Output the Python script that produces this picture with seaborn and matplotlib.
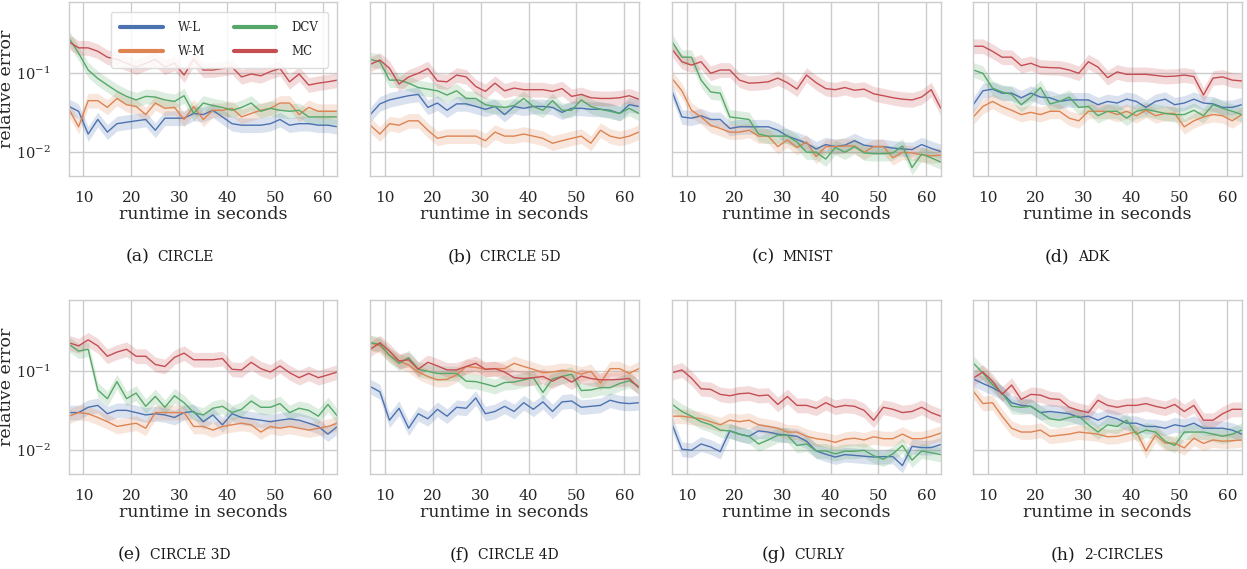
import matplotlib
matplotlib.use("Agg")
import matplotlib.pyplot as plt
from matplotlib.lines import Line2D
import numpy as np
import pandas as pd
import seaborn as sns

# Checkpoints (seconds) at which the estimators were evaluated
runtime = list(range(7, 64, 2))

methods = ["W-L", "W-M", "DCV", "MC"]
panel_tags = ["(a)", "(b)", "(c)", "(d)", "(e)", "(f)", "(g)", "(h)"]
panel_names = ["circle", "circle 5d", "mnist", "adk",
               "circle 3d", "circle 4d", "curly", "2-circles"]

# Relative error per method, one list per dataset
circle_wl = [0.038, 0.033, 0.017, 0.026, 0.018, 0.023, 0.024, 0.025, 0.026, 0.019, 0.027, 0.027, 0.027, 0.031, 0.030,
             0.034, 0.028, 0.023, 0.022, 0.022, 0.022, 0.023, 0.026, 0.022, 0.023, 0.023, 0.022, 0.022, 0.021]
circle_wm = [0.035, 0.021, 0.045, 0.045, 0.037, 0.048, 0.040, 0.038, 0.030, 0.042, 0.036, 0.037, 0.026, 0.038, 0.026,
             0.034, 0.034, 0.036, 0.028, 0.031, 0.034, 0.036, 0.042, 0.042, 0.030, 0.037, 0.033, 0.033, 0.033]
circle_dcv = [0.28, 0.18, 0.11, 0.086, 0.071, 0.059, 0.051, 0.046, 0.051, 0.050, 0.046, 0.044, 0.052, 0.031, 0.042,
              0.039, 0.037, 0.034, 0.037, 0.042, 0.033, 0.036, 0.034, 0.033, 0.034, 0.028, 0.028, 0.028, 0.028]
circle_mc = [0.25, 0.21, 0.21, 0.19, 0.16, 0.15, 0.134, 0.12, 0.134, 0.15, 0.12, 0.134, 0.095, 0.15, 0.11,
             0.11, 0.115, 0.12, 0.09, 0.098, 0.093, 0.105, 0.115, 0.078, 0.098, 0.071, 0.075, 0.078, 0.082]

circle5d_wl = [0.030, 0.041, 0.046, 0.049, 0.052, 0.054, 0.037, 0.042, 0.034, 0.041, 0.041, 0.038, 0.035, 0.038, 0.030,
               0.038, 0.036, 0.038, 0.038, 0.037, 0.032, 0.036, 0.036, 0.035, 0.035, 0.034, 0.031, 0.040, 0.038]
circle5d_wm = [0.022, 0.017, 0.023, 0.022, 0.025, 0.025, 0.019, 0.015, 0.016, 0.016, 0.016, 0.016, 0.014, 0.018, 0.016,
               0.016, 0.017, 0.016, 0.015, 0.013, 0.014, 0.015, 0.016, 0.013, 0.019, 0.016, 0.015, 0.016, 0.018]
circle5d_dcv = [0.15, 0.14, 0.082, 0.082, 0.075, 0.066, 0.063, 0.060, 0.053, 0.060, 0.048, 0.048, 0.040, 0.038, 0.037,
                0.039, 0.048, 0.038, 0.034, 0.045, 0.034, 0.034, 0.046, 0.038, 0.035, 0.033, 0.031, 0.036, 0.031]
circle5d_mc = [0.13, 0.147, 0.116, 0.073, 0.09, 0.10, 0.115, 0.08, 0.078, 0.095, 0.09, 0.068, 0.059, 0.075, 0.060,
               0.065, 0.062, 0.062, 0.062, 0.059, 0.064, 0.051, 0.054, 0.049, 0.048, 0.048, 0.049, 0.052, 0.047]

mnist_wl = [0.058, 0.028, 0.027, 0.029, 0.026, 0.026, 0.020, 0.021, 0.021, 0.021, 0.021, 0.019, 0.016, 0.0145, 0.013,
            0.011, 0.0125, 0.0118, 0.0123, 0.014, 0.0123, 0.0118, 0.0118, 0.0113, 0.011, 0.0108, 0.0125, 0.0112, 0.0102]
mnist_wm = [0.085, 0.06, 0.034, 0.028, 0.022, 0.020, 0.018, 0.018, 0.019, 0.016, 0.016, 0.0118, 0.0143, 0.0115, 0.0135,
            0.0088, 0.0118, 0.0118, 0.012, 0.012, 0.010, 0.0118, 0.0118, 0.0085, 0.010, 0.0098, 0.0093, 0.0090, 0.0092]
mnist_dcv = [0.25, 0.16, 0.16, 0.082, 0.058, 0.056, 0.028, 0.027, 0.026, 0.017, 0.016, 0.016, 0.016, 0.0135, 0.010,
             0.010, 0.0082, 0.0115, 0.010, 0.0118, 0.0098, 0.0096, 0.0096, 0.0098, 0.012, 0.0064, 0.0095, 0.0085, 0.0075]
mnist_mc = [0.20, 0.14, 0.127, 0.14, 0.10, 0.11, 0.11, 0.082, 0.075, 0.076, 0.078, 0.087, 0.076, 0.063, 0.095,
            0.076, 0.064, 0.062, 0.066, 0.061, 0.063, 0.055, 0.052, 0.049, 0.047, 0.046, 0.050, 0.062, 0.036]

adk_wl = [0.040, 0.060, 0.063, 0.056, 0.056, 0.049, 0.056, 0.050, 0.049, 0.044, 0.046, 0.046, 0.046, 0.040, 0.044,
          0.042, 0.047, 0.044, 0.037, 0.044, 0.047, 0.040, 0.042, 0.047, 0.042, 0.041, 0.037, 0.037, 0.040]
adk_wm = [0.028, 0.038, 0.044, 0.038, 0.034, 0.030, 0.032, 0.030, 0.033, 0.033, 0.027, 0.025, 0.033, 0.033, 0.033,
          0.030, 0.033, 0.029, 0.034, 0.029, 0.031, 0.031, 0.021, 0.025, 0.028, 0.030, 0.029, 0.025, 0.030]
adk_dcv = [0.11, 0.10, 0.065, 0.058, 0.054, 0.040, 0.050, 0.066, 0.041, 0.044, 0.050, 0.037, 0.038, 0.029, 0.033,
           0.033, 0.027, 0.033, 0.035, 0.033, 0.031, 0.030, 0.030, 0.034, 0.029, 0.040, 0.036, 0.033, 0.030]
adk_mc = [0.22, 0.22, 0.19, 0.16, 0.16, 0.125, 0.134, 0.12, 0.118, 0.117, 0.11, 0.10, 0.14, 0.12, 0.088,
          0.104, 0.097, 0.097, 0.097, 0.094, 0.091, 0.092, 0.095, 0.091, 0.053, 0.087, 0.090, 0.082, 0.080]

circle3d_wl = [0.030, 0.030, 0.035, 0.037, 0.029, 0.032, 0.032, 0.030, 0.028, 0.029, 0.028, 0.026, 0.030, 0.031, 0.023,
               0.028, 0.021, 0.029, 0.026, 0.025, 0.024, 0.023, 0.024, 0.025, 0.024, 0.022, 0.020, 0.016, 0.020]
circle3d_wm = [0.027, 0.030, 0.029, 0.026, 0.023, 0.020, 0.021, 0.022, 0.019, 0.030, 0.030, 0.030, 0.030, 0.020, 0.020,
               0.018, 0.020, 0.021, 0.022, 0.021, 0.017, 0.020, 0.019, 0.020, 0.019, 0.018, 0.019, 0.020, 0.022]
circle3d_dcv = [0.22, 0.18, 0.19, 0.058, 0.045, 0.074, 0.045, 0.053, 0.036, 0.048, 0.035, 0.049, 0.040, 0.030, 0.028,
                0.034, 0.036, 0.030, 0.033, 0.042, 0.035, 0.035, 0.039, 0.030, 0.034, 0.032, 0.027, 0.038, 0.027]
circle3d_mc = [0.23, 0.21, 0.25, 0.21, 0.155, 0.175, 0.19, 0.155, 0.155, 0.122, 0.115, 0.15, 0.17, 0.14, 0.14,
               0.14, 0.145, 0.106, 0.104, 0.13, 0.108, 0.098, 0.117, 0.096, 0.083, 0.094, 0.083, 0.090, 0.098]

circle4d_wl = [0.064, 0.055, 0.024, 0.034, 0.019, 0.029, 0.025, 0.033, 0.027, 0.035, 0.034, 0.046, 0.029, 0.031, 0.036,
               0.031, 0.040, 0.033, 0.041, 0.031, 0.041, 0.042, 0.035, 0.036, 0.037, 0.043, 0.040, 0.039, 0.040]
circle4d_wm = [0.23, 0.21, 0.16, 0.135, 0.12, 0.098, 0.086, 0.078, 0.079, 0.09, 0.115, 0.112, 0.106, 0.108, 0.108,
               0.126, 0.115, 0.106, 0.096, 0.098, 0.103, 0.10, 0.092, 0.10, 0.071, 0.108, 0.108, 0.094, 0.108]
circle4d_dcv = [0.23, 0.22, 0.16, 0.126, 0.149, 0.106, 0.10, 0.094, 0.094, 0.094, 0.075, 0.074, 0.069, 0.064, 0.072,
                0.073, 0.078, 0.083, 0.054, 0.080, 0.086, 0.092, 0.057, 0.058, 0.062, 0.062, 0.070, 0.076, 0.064]
circle4d_mc = [0.19, 0.23, 0.18, 0.135, 0.14, 0.106, 0.13, 0.117, 0.104, 0.104, 0.115, 0.126, 0.106, 0.108, 0.098,
               0.083, 0.081, 0.083, 0.086, 0.075, 0.086, 0.073, 0.087, 0.081, 0.078, 0.078, 0.079, 0.081, 0.062]

curly_wl = [0.021, 0.0103, 0.010, 0.012, 0.011, 0.0096, 0.0176, 0.016, 0.015, 0.0176, 0.017, 0.016, 0.0155, 0.015, 0.013,
            0.0098, 0.0089, 0.0082, 0.0088, 0.0086, 0.0084, 0.0082, 0.0083, 0.0083, 0.0064, 0.0112, 0.0108, 0.0108, 0.0118]
curly_wm = [0.027, 0.027, 0.026, 0.025, 0.023, 0.021, 0.024, 0.023, 0.024, 0.021, 0.020, 0.019, 0.017, 0.017, 0.015,
            0.014, 0.0135, 0.0126, 0.0138, 0.0142, 0.0135, 0.0148, 0.014, 0.014, 0.016, 0.014, 0.014, 0.015, 0.0165]
curly_dcv = [0.038, 0.031, 0.027, 0.023, 0.021, 0.018, 0.0175, 0.016, 0.015, 0.012, 0.0135, 0.0155, 0.0155, 0.0115, 0.012,
             0.0098, 0.0098, 0.009, 0.0097, 0.0097, 0.010, 0.0085, 0.0077, 0.0090, 0.0115, 0.0075, 0.0098, 0.0093, 0.0088]
curly_mc = [0.096, 0.104, 0.082, 0.060, 0.059, 0.051, 0.049, 0.052, 0.053, 0.049, 0.050, 0.038, 0.048, 0.037, 0.037,
            0.034, 0.040, 0.035, 0.037, 0.036, 0.032, 0.024, 0.035, 0.033, 0.030, 0.031, 0.035, 0.030, 0.027]

circles2_wl = [0.080, 0.070, 0.062, 0.053, 0.040, 0.037, 0.036, 0.030, 0.031, 0.030, 0.029, 0.026, 0.027, 0.024, 0.027,
               0.025, 0.022, 0.022, 0.020, 0.020, 0.019, 0.021, 0.020, 0.022, 0.019, 0.019, 0.019, 0.018, 0.016]
circles2_wm = [0.056, 0.039, 0.040, 0.027, 0.019, 0.017, 0.017, 0.018, 0.015, 0.0155, 0.016, 0.017, 0.0165, 0.016, 0.0148,
               0.015, 0.016, 0.0172, 0.0098, 0.0155, 0.0123, 0.0123, 0.0107, 0.0142, 0.0122, 0.0135, 0.013, 0.0132, 0.0135]
circles2_dcv = [0.127, 0.095, 0.068, 0.053, 0.036, 0.035, 0.036, 0.030, 0.025, 0.024, 0.026, 0.027, 0.021, 0.017, 0.021,
                0.020, 0.024, 0.016, 0.018, 0.017, 0.013, 0.0115, 0.017, 0.017, 0.017, 0.016, 0.015, 0.016, 0.018]
circles2_mc = [0.082, 0.098, 0.075, 0.051, 0.067, 0.044, 0.051, 0.050, 0.045, 0.044, 0.035, 0.032, 0.030, 0.043, 0.037,
               0.035, 0.037, 0.037, 0.039, 0.036, 0.034, 0.038, 0.031, 0.037, 0.024, 0.024, 0.029, 0.033, 0.033]

panels = [
    [circle_wl, circle_wm, circle_dcv, circle_mc],
    [circle5d_wl, circle5d_wm, circle5d_dcv, circle5d_mc],
    [mnist_wl, mnist_wm, mnist_dcv, mnist_mc],
    [adk_wl, adk_wm, adk_dcv, adk_mc],
    [circle3d_wl, circle3d_wm, circle3d_dcv, circle3d_mc],
    [circle4d_wl, circle4d_wm, circle4d_dcv, circle4d_mc],
    [curly_wl, curly_wm, curly_dcv, curly_mc],
    [circles2_wl, circles2_wm, circles2_dcv, circles2_mc],
]

# Multiplicative half-width of the confidence band around each curve
band_factor = 1.24

sns.set_theme(style="whitegrid", palette="deep")
plt.rcParams["font.family"] = ["DejaVu Serif"]
plt.rcParams["mathtext.fontset"] = "dejavuserif"

colors = dict(zip(methods, sns.color_palette("deep", 4)))

W, H = 1247, 569
fig = plt.figure(figsize=(W / 100, H / 100), dpi=100)

col_left = [69, 370.3, 672.3, 973.3]
ax_w = 268.5
row_top = [2, 300]
ax_h = 174.0
caption_cx = [[170, 504, 792, 1077], [174, 504, 803, 1107]]
caption_base = [261, 559]

axes = []
for k, series in enumerate(panels):
    r, c = divmod(k, 4)
    left = col_left[c] / W
    bottom = 1 - (row_top[r] + ax_h) / H
    ax = fig.add_axes([left, bottom, ax_w / W, ax_h / H])
    axes.append(ax)

    df = pd.DataFrame({
        "runtime": runtime * len(methods),
        "error": np.concatenate(series),
        "method": np.repeat(methods, len(runtime)),
    })
    sns.lineplot(data=df, x="runtime", y="error", hue="method",
                 hue_order=methods, palette=colors, linewidth=1.0,
                 legend=False, ax=ax)
    for m, vals in zip(methods, series):
        v = np.asarray(vals)
        ax.fill_between(runtime, v / band_factor, v * band_factor,
                        color=colors[m], alpha=0.2, linewidth=0)

    ax.set_yscale("log")
    ax.set_ylim(0.005, 0.8)
    ax.set_xlim(7, 63)
    ax.set_xticks([10, 20, 30, 40, 50, 60])
    ax.set_yticks([0.01, 0.1])
    ax.yaxis.set_minor_locator(matplotlib.ticker.NullLocator())
    ax.tick_params(axis="x", labelsize=11, pad=4.5, colors="0.15")
    ax.tick_params(axis="y", labelsize=10.5, pad=7, colors="0.15")
    ax.set_xlabel("runtime in seconds", fontsize=12.5, labelpad=1)
    if c == 0:
        ax.set_ylabel("relative error", fontsize=12.5, labelpad=1)
    else:
        ax.set_ylabel("")
        ax.tick_params(axis="y", labelleft=False)
    for sp in ax.spines.values():
        sp.set_color("0.8")
        sp.set_linewidth(1.0)
    ax.grid(True, color="0.8", linewidth=1.0)

handles = [Line2D([], [], color=colors[m], linewidth=3) for m in methods]
axes[0].legend(handles, methods, ncol=2, loc="upper right",
               bbox_to_anchor=(0.964, 0.945), borderaxespad=0,
               fontsize=8.5, handlelength=3.6, handletextpad=1.3,
               columnspacing=2.4, labelspacing=0.95, frameon=True,
               edgecolor="0.85", framealpha=0.85, borderpad=0.8)

# Sub-figure captions: "(x)" followed by the dataset name in small capitals
renderer = fig.canvas.get_renderer()
gap = 8
for k, (tag, name) in enumerate(zip(panel_tags, panel_names)):
    r, c = divmod(k, 4)
    yb = 1 - caption_base[r] / H
    t1 = fig.text(0, yb, tag, fontsize=12.5, va="baseline", ha="left", color="0.1")
    t2 = fig.text(0, yb, name.upper(), fontsize=10, va="baseline", ha="left", color="0.1")
    w1 = t1.get_window_extent(renderer).width
    w2 = t2.get_window_extent(renderer).width
    x0 = caption_cx[r][c] - (w1 + gap + w2) / 2
    t1.set_x(x0 / W)
    t2.set_x((x0 + w1 + gap) / W)

fig.savefig("out.png", dpi=100)
